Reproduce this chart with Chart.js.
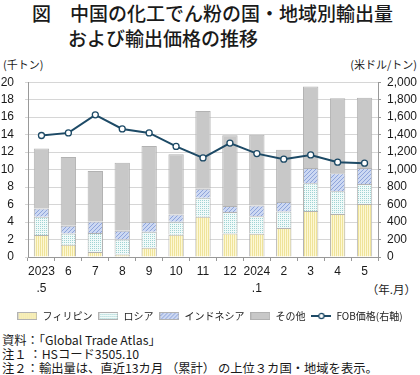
<!DOCTYPE html>
<html lang="ja">
<head>
<meta charset="utf-8">
<script src="https://cdn.jsdelivr.net/npm/chart.js@4"></script>
<style>
  body { margin: 0; width: 420px; height: 375px; background: #fff; position: relative; overflow: hidden;
         font-family: "Noto Sans CJK JP", sans-serif; color: #1a1a1a; }
  .abs { position: absolute; white-space: nowrap; }
  #title { left: 32px; top: 0px; font-size: 19px; line-height: 25px; font-weight: 500; }
  .unit { font-size: 11px; top: 56px; }
  #notes { left: 2px; top: 333px; font-size: 12.3px; line-height: 14px; }
  #wrap { position: absolute; left: 0; top: 64px; width: 420px; height: 267px; }
</style>
</head>
<body>
<div id="title" class="abs">図　中国の化工でん粉の国・地域別輸出量<br><span style="padding-left:36px">および輸出価格の推移</span></div>
<div class="abs unit" style="left:3px">(千トン)</div>
<div class="abs unit" style="right:3px">(米ドル/トン)</div>
<div class="abs" style="right:4px; top:281px; font-size:11.5px">（年.月）</div>
<div id="wrap"><canvas id="chart"></canvas></div>
<div id="notes" class="abs">資料：「Global Trade Atlas」<br>注１ ：HSコード3505.10<br>注２：輸出量は、直近13カ月 （累計） の上位３カ国・地域を表示。</div>
<script>
const months = [['2023', '.5'], '6', '7', '8', '9', '10', '11', '12', ['2024', '.1'], '2', '3', '4', '5'];
const philippines = [2.52, 1.4, 0.56, 0.3, 1.05, 2.56, 4.6, 2.7, 2.67, 3.31, 5.27, 4.93, 6.06];
const russia = [2.08, 1.3, 2.19, 1.7, 1.85, 1.47, 2.18, 2.46, 2.0, 1.89, 3.17, 2.6, 2.3];
const indonesia = [0.94, 0.88, 1.32, 1.0, 1.1, 0.83, 1.02, 0.68, 1.21, 1.09, 1.73, 2.04, 1.81];
const others = [6.86, 7.87, 5.76, 7.77, 8.7, 6.89, 8.9, 8.1, 8.12, 5.99, 9.33, 8.58, 8.06];
const fobPrice = [1390, 1420, 1627, 1465, 1420, 1265, 1134, 1303, 1183, 1119, 1168, 1085, 1073];

const lineColor = '#1d4a66';
const edge = '#b2b2b2';

// small tiles used as fill patterns
function makePattern(bg, fg, dots) {
  const c = document.createElement('canvas');
  c.width = 4; c.height = 4;
  const g = c.getContext('2d');
  g.fillStyle = bg; g.fillRect(0, 0, 4, 4);
  g.fillStyle = fg;
  dots.forEach(d => g.fillRect(d[0], d[1], 1, 1));
  return g.createPattern(c, 'repeat');
}
const stripes = makePattern('#fdf8d4', '#efe39a', [[0, 0], [0, 1], [0, 2], [0, 3], [2, 0], [2, 1], [2, 2], [2, 3]]);
const dotsCyan = makePattern('#f1faf9', '#9fd3d3', [[0, 0], [2, 2], [2, 0], [0, 2]]);
const dotsBlue = makePattern('#ccd8f2', '#8ea4db', [[0, 0], [2, 2], [1, 3], [3, 1]]);
const grey = '#c8c8c8';

function boxIcon(fill) {
  const c = document.createElement('canvas');
  c.width = 20; c.height = 8;
  const g = c.getContext('2d');
  g.fillStyle = fill; g.fillRect(0, 0, 20, 8);
  g.strokeStyle = edge; g.strokeRect(0.5, 0.5, 19, 7);
  return c;
}
function lineIcon() {
  const c = document.createElement('canvas');
  c.width = 20; c.height = 8;
  const g = c.getContext('2d');
  g.strokeStyle = lineColor; g.lineWidth = 2;
  g.beginPath(); g.moveTo(0, 4); g.lineTo(20, 4); g.stroke();
  g.fillStyle = '#fff'; g.lineWidth = 1.3;
  g.beginPath(); g.arc(10, 4, 2.6, 0, Math.PI * 2); g.fill(); g.stroke();
  return c;
}
const legendIcons = [boxIcon(stripes), boxIcon(dotsCyan), boxIcon(dotsBlue), boxIcon(grey), lineIcon()];

function bar(label, data, fill) {
  return {
    type: 'bar', label: label, data: data, yAxisID: 'y', order: 1,
    backgroundColor: fill, borderColor: edge, borderWidth: 1,
    barPercentage: 0.57, categoryPercentage: 1
  };
}

const tickFont = { family: 'Liberation Sans', size: 12 };

new Chart(document.getElementById('chart'), {
  data: {
    labels: months,
    datasets: [
      bar('フィリピン', philippines, stripes),
      bar('ロシア', russia, dotsCyan),
      bar('インドネシア', indonesia, dotsBlue),
      bar('その他', others, grey),
      {
        type: 'line', label: 'FOB価格(右軸)', data: fobPrice, yAxisID: 'y1', order: 0,
        borderColor: lineColor, borderWidth: 2, pointRadius: 3,
        pointBackgroundColor: '#fff', pointBorderColor: lineColor, pointBorderWidth: 1.3
      }
    ]
  },
  options: {
    responsive: true,
    maintainAspectRatio: false,
    animation: false,
    layout: { padding: { top: 12, bottom: 0, left: 0, right: 0 } },
    plugins: {
      tooltip: { enabled: false },
      legend: {
        position: 'bottom',
        labels: {
          usePointStyle: true, pointStyleWidth: 20, boxHeight: 8,
          padding: 6, color: '#222',
          font: { family: 'Noto Sans CJK JP', size: 10 },
          sort: (a, b) => a.datasetIndex - b.datasetIndex,
          generateLabels: chart => Chart.defaults.plugins.legend.labels.generateLabels(chart)
            .map(l => Object.assign(l, { pointStyle: legendIcons[l.datasetIndex] }))
        }
      }
    },
    scales: {
      x: {
        stacked: true,
        grid: { drawOnChartArea: false, tickLength: 4, color: '#999' },
        border: { color: '#999' },
        ticks: { color: '#1a1a1a', padding: 3, maxRotation: 0, autoSkip: false,
                 font: { family: 'Liberation Sans', size: 12, lineHeight: 1.35 } },
        afterFit: s => { s.height = 48; }
      },
      y: {
        stacked: true, min: 0, max: 20,
        ticks: { stepSize: 2, autoSkip: false, color: '#1a1a1a', padding: 11, font: tickFont },
        grid: { color: '#d6d6d6', tickLength: 3 },
        border: { color: '#999' },
        afterFit: s => { s.width = 28; }
      },
      y1: {
        position: 'right', min: 0, max: 2000,
        ticks: { stepSize: 200, autoSkip: false, color: '#1a1a1a', padding: 6, font: tickFont,
                 callback: v => v.toLocaleString('en-US') },
        grid: { drawOnChartArea: false, tickLength: 3, color: '#999' },
        border: { color: '#999' },
        afterFit: s => { s.width = 42; }
      }
    }
  }
});
</script>
</body>
</html>
